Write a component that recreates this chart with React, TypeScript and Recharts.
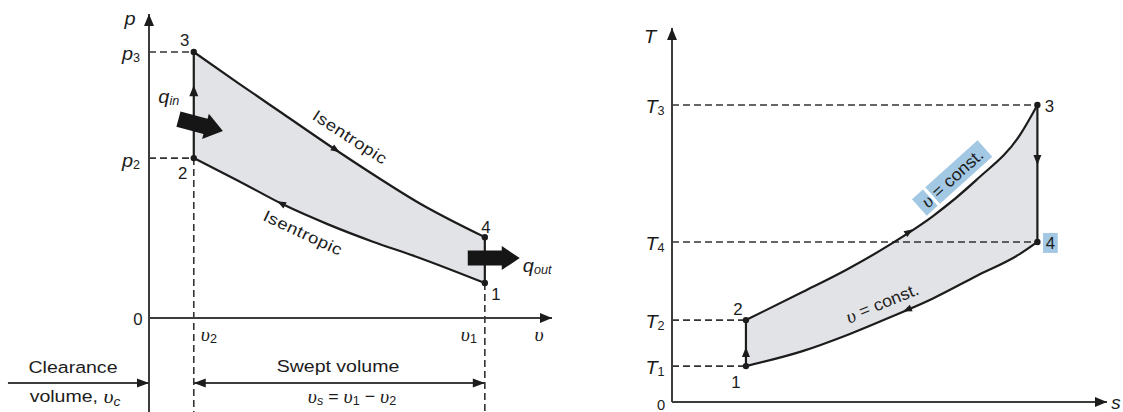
import React from 'react';
import { ComposedChart, Line, Area, XAxis, YAxis, ReferenceLine, ReferenceDot } from 'recharts';

// p-v diagram: specific volume samples and pressures on the two isentropes
const vSamples = [1, 2, 3, 4, 5, 6, 7.5];
const pExpansion = [8.75, 7.72, 6.71, 5.7, 4.73, 3.81, 2.66]; // 3 -> 4
const pCompression = [5.26, 4.51, 3.73, 3.08, 2.51, 2.0, 1.15]; // 1 -> 2

// T-s diagram: entropy samples and temperatures on the two constant-volume lines
const sSamples = [1.7, 3, 4, 5, 6, 7, 8, 8.4];
const tHeating = [2.19, 2.94, 3.53, 4.2, 4.97, 5.94, 7.14, 7.94]; // 2 -> 3
const tRejection = [0.96, 1.36, 1.78, 2.26, 2.77, 3.37, 3.96, 4.28]; // 1 -> 4

const vMax = 9;
const pMax = 10;
const sMax = 10;
const tMax = 10;
const pBelow = -3.1; // dashed guides run below the v axis
const pBracket = -2.14; // clearance / swept volume arrows

const v2 = vSamples[0];
const v1 = vSamples[vSamples.length - 1];
const p3 = pExpansion[0];
const p4 = pExpansion[pExpansion.length - 1];
const p2 = pCompression[0];
const p1 = pCompression[pCompression.length - 1];

const s1 = sSamples[0];
const s3 = sSamples[sSamples.length - 1];
const T2 = tHeating[0];
const T3 = tHeating[tHeating.length - 1];
const T1 = tRejection[0];
const T4 = tRejection[tRejection.length - 1];

const pvData = vSamples.map((v, i) => ({ v, hi: pExpansion[i], lo: pCompression[i], band: [pCompression[i], pExpansion[i]] }));
const tsData = sSamples.map((s, i) => ({ s, hi: tHeating[i], lo: tRejection[i], band: [tRejection[i], tHeating[i]] }));

const INK = '#1c1c1c';
const AXIS = '#3c3c3c';
const FILL = '#e2e3e6';
const HILITE = '#a3c8e4';
const SANS = '"Liberation Sans", Arial, sans-serif';
const SERIF = '"Liberation Serif", "DejaVu Serif", serif';
const DASH = { stroke: '#333', strokeWidth: 1.6, strokeDasharray: '7 4' };
const SOLID = { stroke: INK, strokeWidth: 2.2 };
const AX = { stroke: AXIS, strokeWidth: 2 };

type Opts = { size?: number; anchor?: 'start' | 'middle' | 'end'; rotate?: number; spacing?: number; sx?: number; bg?: number[][] };

const label = (content: React.ReactNode, dx: number, dy: number, o: Opts = {}) => (p: any) => {
  const x = p.cx + dx;
  const y = p.cy + dy;
  return (
    <g transform={`translate(${x} ${y}) rotate(${o.rotate ?? 0}) scale(${o.sx ?? 1.15} 1)`}>
      {(o.bg ?? []).map((r, i) => (
        <rect key={i} x={r[0]} y={r[1]} width={r[2]} height={r[3]} fill={HILITE} />
      ))}
      <text x={0} y={0} textAnchor={o.anchor ?? 'middle'} dominantBaseline="central" fontFamily={SANS}
        fontSize={o.size ?? 17} letterSpacing={o.spacing ?? 0} fill={INK}>
        {content}
      </text>
    </g>
  );
};

const head = (angle: number, len = 11, half = 4.5) => (p: any) => (
  <polygon points={`0,0 ${-len},${-half} ${-len},${half}`} transform={`translate(${p.cx} ${p.cy}) rotate(${angle})`} fill={INK} />
);

const fatArrow = (angle: number, len: number, shaft: number, wing: number) => (p: any) => (
  <polygon
    points={`0,0 -18,${-wing} -18,${-shaft} ${-len},${-shaft} ${-len},${shaft} -18,${shaft} -18,${wing}`}
    transform={`translate(${p.cx} ${p.cy}) rotate(${angle})`}
    fill="#161616"
  />
);

const pointDot = (p: any) => <circle cx={p.cx} cy={p.cy} r={3.2} fill={INK} />;

const mark = (key: string, x: number, y: number, shape: (p: any) => React.ReactElement) => (
  <ReferenceDot key={key} x={x} y={y} r={0} ifOverflow="visible" shape={shape} />
);

const SUB = 5;
const it = (t: string) => <tspan fontStyle="italic">{t}</tspan>;
const ups = (t = 'υ', rise = 0) => <tspan fontStyle="italic" fontFamily={SERIF} fontSize={19} dy={rise || undefined}>{t}</tspan>;
const sub = (t: string, italic = false) => (
  <tspan fontSize={12} dy={SUB} fontStyle={italic ? 'italic' : 'normal'}>{t}</tspan>
);
const back = (t: string) => <tspan dy={-SUB}>{t}</tspan>;

function PvChart() {
  return (
    <ComposedChart width={600} height={412} data={pvData} margin={{ top: 14, right: 48, bottom: 94, left: 149 }}
      style={{ position: 'absolute', left: 0, top: 0 }}>
      <XAxis type="number" dataKey="v" domain={[0, vMax]} hide allowDataOverflow />
      <YAxis type="number" domain={[0, pMax]} hide allowDataOverflow />
      <Area dataKey="band" type="monotone" fill={FILL} fillOpacity={1} stroke="none" isAnimationActive={false} />
      <Line dataKey="hi" type="monotone" {...SOLID} dot={false} activeDot={false} isAnimationActive={false} />
      <Line dataKey="lo" type="monotone" {...SOLID} dot={false} activeDot={false} isAnimationActive={false} />

      <ReferenceLine segment={[{ x: 0, y: p3 }, { x: v2, y: p3 }]} {...DASH} ifOverflow="visible" />
      <ReferenceLine segment={[{ x: 0, y: p2 }, { x: v2, y: p2 }]} {...DASH} ifOverflow="visible" />
      <ReferenceLine segment={[{ x: v2, y: p2 }, { x: v2, y: pBelow }]} {...DASH} ifOverflow="visible" />
      <ReferenceLine segment={[{ x: v1, y: p1 }, { x: v1, y: pBelow }]} {...DASH} ifOverflow="visible" />

      <ReferenceLine segment={[{ x: v2, y: p2 }, { x: v2, y: p3 }]} {...SOLID} ifOverflow="visible" />
      <ReferenceLine segment={[{ x: v1, y: p1 }, { x: v1, y: p4 }]} {...SOLID} ifOverflow="visible" />

      <ReferenceLine segment={[{ x: 0, y: pBelow }, { x: 0, y: pMax }]} {...AX} ifOverflow="visible" />
      <ReferenceLine segment={[{ x: 0, y: 0 }, { x: vMax, y: 0 }]} {...AX} ifOverflow="visible" />
      <ReferenceLine segment={[{ x: -3.15, y: pBracket }, { x: 0, y: pBracket }]} {...AX} ifOverflow="visible" />
      <ReferenceLine segment={[{ x: v2, y: pBracket }, { x: v1, y: pBracket }]} {...AX} ifOverflow="visible" />

      {[
        mark('ax-p', 0, pMax, head(-90, 12, 5)),
        mark('ax-v', vMax, 0, head(0, 12, 5)),
        mark('clr', 0, pBracket, head(0, 12, 4.5)),
        mark('sw-l', v2, pBracket, head(180, 12, 4.5)),
        mark('sw-r', v1, pBracket, head(0, 12, 4.5)),
        mark('a23', v2, 7.66, head(-90, 11, 4.5)),
        mark('a34', 4.26, 5.45, head(33, 9, 3.5)),
        mark('a12', 2.86, 3.84, head(207, 9, 3.5)),
        mark('qin', 1.65, 6.15, fatArrow(15, 46, 8, 13)),
        mark('qout', 8.28, 1.97, fatArrow(0, 52, 7.5, 12)),
        mark('pt3', v2, p3, pointDot),
        mark('pt2', v2, p2, pointDot),
        mark('pt4', v1, p4, pointDot),
        mark('pt1', v1, p1, pointDot),

        mark('l3', v2, p3, label('3', -9, -12, { size: 16, sx: 1.05 })),
        mark('l2', v2, p2, label('2', -11, 15, { size: 16, sx: 1.05 })),
        mark('l4', v1, p4, label('4', 1, -10, { size: 16, sx: 1.05 })),
        mark('l1', v1, p1, label('1', 11, 11, { size: 16, sx: 1.05 })),
        mark('lp', 0, pMax, label(it('p'), -19, 4, { size: 19, sx: 1.05 })),
        mark('lp3', 0, p3, label(<>{it('p')}{sub('3')}</>, -18, 1, { size: 19, sx: 1.05 })),
        mark('lp2', 0, p2, label(<>{it('p')}{sub('2')}</>, -18, 2, { size: 19, sx: 1.05 })),
        mark('l0', 0, 0, label('0', -11, 1, { size: 16, sx: 1.05 })),
        mark('lv2', v2, 0, label(<>{ups()}{sub('2')}</>, 7, 16, { anchor: 'start', sx: 1.05 })),
        mark('lv1', v1, 0, label(<>{ups()}{sub('1')}</>, -24, 16, { anchor: 'start', sx: 1.05 })),
        mark('lv', vMax, 0, label(ups(), -13, 16, { sx: 1.05 })),
        mark('lqin', v2, p3, label(<>{it('q')}{sub('in', true)}</>, -25, 44, { size: 19, sx: 1.05 })),
        mark('lqout', v1, p4, label(<>{it('q')}{sub('out', true)}</>, 38, 28, { size: 19, anchor: 'start', sx: 1.05 })),
        mark('iso-hi', 4.49, 5.95, label('Isentropic', 0, 0, { size: 16, rotate: 33, spacing: 0.5 })),
        mark('iso-lo', 3.44, 2.8, label('Isentropic', 0, 0, { size: 16, rotate: 25, spacing: 0.5 })),
        mark('clr1', 0, pBracket, label('Clearance', -76, -16)),
        mark('clr2', 0, pBracket, label(<>volume, {ups()}{sub('c', true)}</>, -74, 13)),
        mark('sw1', 4.22, pBracket, label('Swept volume', 0, -17)),
        mark('sw2', 4.22, pBracket, label(
          <>{ups()}{sub('s', true)}{back(' = ')}{ups()}{sub('1')}{back(' − ')}{ups()}{sub('2')}</>, 14, 13, { sx: 1.05 })),
      ]}
    </ComposedChart>
  );
}

function TsChart() {
  return (
    <ComposedChart width={563} height={412} data={tsData} margin={{ top: 28, right: 16, bottom: 10, left: 112 }}
      style={{ position: 'absolute', left: 560, top: 0 }}>
      <XAxis type="number" dataKey="s" domain={[0, sMax]} hide allowDataOverflow />
      <YAxis type="number" domain={[0, tMax]} hide allowDataOverflow />
      <Area dataKey="band" type="monotone" fill={FILL} fillOpacity={1} stroke="none" isAnimationActive={false} />

      <ReferenceLine segment={[{ x: 0, y: T3 }, { x: s3, y: T3 }]} {...DASH} ifOverflow="visible" />
      <ReferenceLine segment={[{ x: 0, y: T4 }, { x: s3, y: T4 }]} {...DASH} ifOverflow="visible" />
      <ReferenceLine segment={[{ x: 0, y: T2 }, { x: s1, y: T2 }]} {...DASH} ifOverflow="visible" />
      <ReferenceLine segment={[{ x: 0, y: T1 }, { x: s1, y: T1 }]} {...DASH} ifOverflow="visible" />

      <Line dataKey="hi" type="monotone" {...SOLID} dot={false} activeDot={false} isAnimationActive={false} />
      <Line dataKey="lo" type="monotone" {...SOLID} dot={false} activeDot={false} isAnimationActive={false} />
      <ReferenceLine segment={[{ x: s1, y: T1 }, { x: s1, y: T2 }]} {...SOLID} ifOverflow="visible" />
      <ReferenceLine segment={[{ x: s3, y: T4 }, { x: s3, y: T3 }]} {...SOLID} ifOverflow="visible" />

      <ReferenceLine segment={[{ x: 0, y: 0 }, { x: 0, y: tMax }]} {...AX} ifOverflow="visible" />
      <ReferenceLine segment={[{ x: 0, y: 0 }, { x: sMax, y: 0 }]} {...AX} ifOverflow="visible" />

      {[
        mark('ax-t', 0, tMax, head(-90, 12, 5)),
        mark('ax-s', sMax, 0, head(0, 12, 5)),
        mark('a12', s1, 1.47, head(-90, 10, 4)),
        mark('a34', s3, 6.34, head(90, 10, 4)),
        mark('a23', 5.54, 4.62, head(-33, 9, 3.5)),
        mark('a41', 5.31, 2.42, head(157, 9, 3.5)),
        mark('pt1', s1, T1, pointDot),
        mark('pt2', s1, T2, pointDot),
        mark('pt3', s3, T3, pointDot),
        mark('pt4', s3, T4, pointDot),

        mark('lT', 0, tMax, label(it('T'), -22, 8, { size: 19, sx: 1.05 })),
        mark('lT3', 0, T3, label(<>{it('T')}{sub('3')}</>, -17, 1, { size: 19, sx: 1.05 })),
        mark('lT4', 0, T4, label(<>{it('T')}{sub('4')}</>, -17, 1, { size: 19, sx: 1.05 })),
        mark('lT2', 0, T2, label(<>{it('T')}{sub('2')}</>, -17, 1, { size: 19, sx: 1.05 })),
        mark('lT1', 0, T1, label(<>{it('T')}{sub('1')}</>, -17, 1, { size: 19, sx: 1.05 })),
        mark('l0', 0, 0, label('0', -11, 3, { size: 14, sx: 1.05 })),
        mark('ls', sMax, 0, label(it('s'), 9, 0, { size: 18, sx: 1.05 })),
        mark('l2', s1, T2, label('2', -8, -11, { size: 16, sx: 1.05 })),
        mark('l1', s1, T1, label('1', -10, 16, { size: 16, sx: 1.05 })),
        mark('l3', s3, T3, label('3', 12, 1, { size: 16, sx: 1.05 })),
        mark('l4', s3, T4, label('4', 13, 1, { size: 16, sx: 1.05, bg: [[-7, -10, 14, 20]] })),
        mark('c-hi', 6.44, 5.99, label(<>{ups()} = const.</>, 0, 0, { size: 17, rotate: -42, sx: 1.05, bg: [[-42, -11, 14, 22], [-25, -11, 67, 22]] })),
        mark('c-lo', 4.83, 2.65, label(<>{ups()} = const.</>, 0, 0, { size: 17, rotate: -22, sx: 1.05 })),
      ]}
    </ComposedChart>
  );
}

export default function App() {
  return (
    <div style={{ position: 'fixed', left: 0, top: 0, width: 1123, height: 412, background: '#fff', overflow: 'hidden' }}>
      <PvChart />
      <TsChart />
    </div>
  );
}
